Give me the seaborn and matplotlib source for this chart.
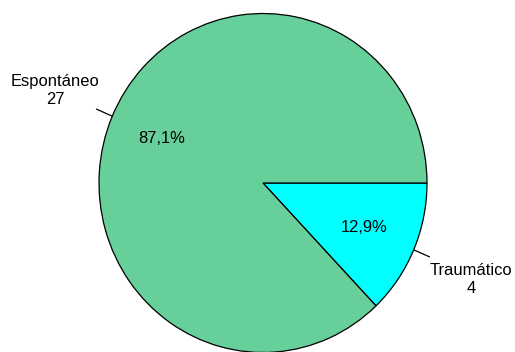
import numpy as np
import matplotlib
matplotlib.use("Agg")
import matplotlib.pyplot as plt
import seaborn as sns

# Data
categories = ["Traumático", "Espontáneo"]
counts = [4, 27]
colors = ["#00FFFF", "#66CF9A"]

sns.set_theme(style="white")
plt.rcParams["font.family"] = ["Liberation Sans", "DejaVu Sans"]

W, H, DPI = 515, 352, 100
fig = plt.figure(figsize=(W / DPI, H / DPI), dpi=DPI)
fig.patch.set_facecolor("white")

# Pie occupies an elliptical region (slightly taller than wide)
cx, cy, rx, ry = 263, 183, 164, 169.5
ax = fig.add_axes([(cx - rx) / W, (H - cy - ry) / H, 2 * rx / W, 2 * ry / H])

wedges, _, autotexts = ax.pie(
    counts,
    colors=colors,
    startangle=0,
    counterclock=False,
    radius=1.0,
    autopct=lambda p: f"{p:.1f}%".replace(".", ","),
    pctdistance=0.67,
    wedgeprops=dict(edgecolor="black", linewidth=0.9),
    textprops=dict(fontsize=11.9, color="black"),
)
ax.set_aspect("auto")
ax.set_xlim(-1, 1)
ax.set_ylim(-1, 1)
ax.axis("off")

# Outside labels with leader lines
for w, name, n in zip(wedges, categories, counts):
    ang = np.deg2rad((w.theta1 + w.theta2) / 2)
    x0, y0 = np.cos(ang), np.sin(ang)
    x1, y1 = 1.105 * np.cos(ang), 1.105 * np.sin(ang)
    ax.plot([x0, x1], [y0, y1], color="black", lw=0.9, clip_on=False)
    if x1 < 0:
        ax.text(x1 + 0.02, y1 + 0.012, f"{name}\n{n}", ha="right", va="bottom",
                multialignment="center", fontsize=11.9, color="black",
                linespacing=1.25)
    else:
        ax.text(x1 + 0.0, y1 - 0.038, f"{name}\n{n}", ha="left", va="top",
                multialignment="center", fontsize=11.9, color="black",
                linespacing=1.25)

fig.savefig("out.png", dpi=DPI, facecolor="white")
